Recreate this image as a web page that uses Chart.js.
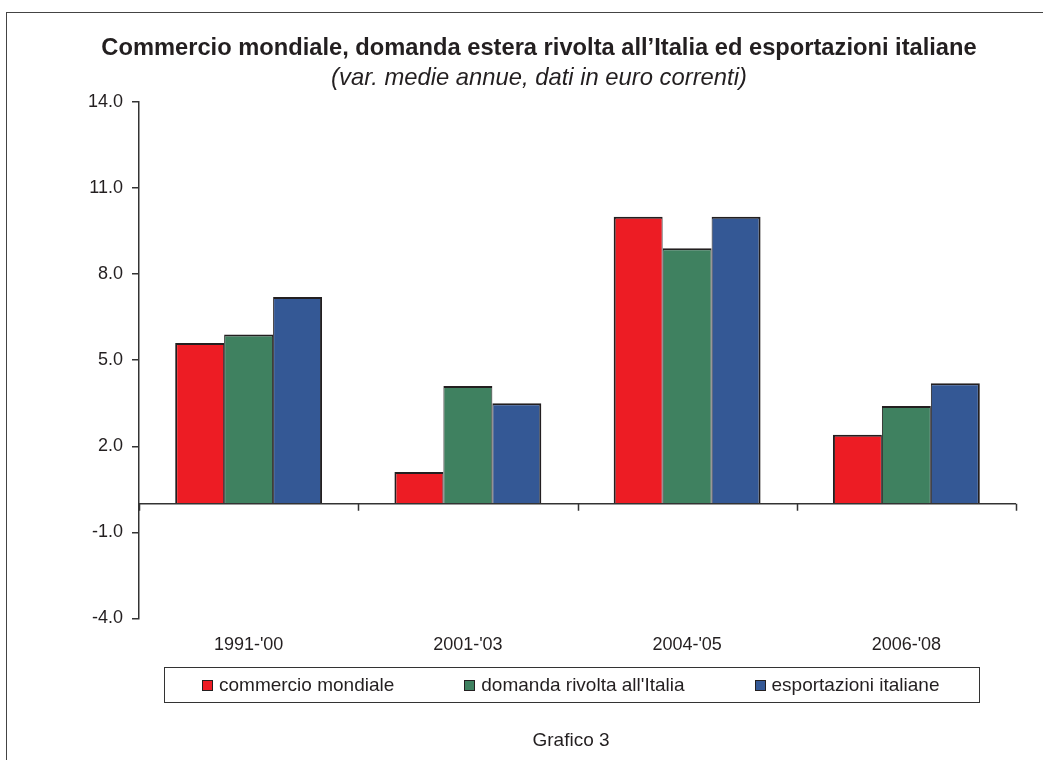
<!DOCTYPE html>
<html>
<head>
<meta charset="utf-8">
<script src="https://cdn.jsdelivr.net/npm/chart.js@4/dist/chart.umd.min.js"></script>
<style>
  html, body { margin: 0; padding: 0; background: #fff; overflow: hidden; }
  body { width: 1043px; height: 760px; position: relative; font-family: "Liberation Sans", Arial, sans-serif; color: #231f20; }
  #frame { position: absolute; left: 6px; top: 12px; width: 1100px; height: 800px; border-top: 1.5px solid #444; border-left: 1.5px solid #444; }
  #chart { position: absolute; left: 0; top: 0; }
  #legend { position: absolute; left: 164px; top: 667px; width: 816px; height: 36px; border: 1.5px solid #333; display: flex; align-items: center; padding-left: 37px; box-sizing: border-box; }
  #legend .item { display: flex; align-items: center; margin-right: 70px; font-size: 19px; white-space: nowrap; }
  #legend .box { width: 9px; height: 9px; border: 1px solid #231f20; margin-right: 6px; }
  #footer { position: absolute; left: 471px; width: 200px; top: 729px; text-align: center; font-size: 19px; }
</style>
</head>
<body>
<div id="frame"></div>
<canvas id="chart" width="1043" height="760"></canvas>
<div id="legend"></div>
<div id="footer">Grafico 3</div>
<script>
var periods = ["1991-'00", "2001-'03", "2004-'05", "2006-'08"];
var commercioMondiale = [5.6, 1.1, 10.0, 2.4];
var domandaItalia = [5.9, 4.1, 8.9, 3.4];
var esportazioniItaliane = [7.2, 3.5, 10.0, 4.2];
var seriesNames = ["commercio mondiale", "domanda rivolta all'Italia", "esportazioni italiane"];
var yMin = -4, yMax = 14, yStep = 3;

Chart.defaults.font.family = "'Liberation Sans', Arial, sans-serif";
Chart.defaults.color = "#231f20";

// linea dello zero con le tacche tra le categorie
var zeroLine = {
    id: 'zeroLine',
    afterDatasetsDraw: function(chart) {
        var ctx = chart.ctx;
        var area = chart.chartArea;
        var y0 = chart.scales.y.getPixelForValue(0);
        var n = chart.data.labels.length;
        var step = (area.right - area.left) / n;
        ctx.save();
        ctx.strokeStyle = '#333';
        ctx.lineWidth = 1.5;
        ctx.beginPath();
        ctx.moveTo(area.left, y0);
        ctx.lineTo(area.right, y0);
        for (var i = 0; i <= n; i++) {
            var x = Math.round(area.left + i * step) + 0.5;
            ctx.moveTo(x, y0);
            ctx.lineTo(x, y0 + 7);
        }
        ctx.stroke();
        ctx.restore();
    }
};

var ctx = document.getElementById('chart');
var chart = new Chart(ctx, {
    type: 'bar',
    data: {
        labels: periods,
        datasets: [{
            label: seriesNames[0],
            data: commercioMondiale,
            backgroundColor: '#ed1c24',
            borderColor: '#231f20',
            borderWidth: {top: 2, left: 2, right: 1, bottom: 0},
            borderSkipped: false
        }, {
            label: seriesNames[1],
            data: domandaItalia,
            backgroundColor: '#3f8160',
            borderColor: '#231f20',
            borderWidth: {top: 2, left: 1, right: 1, bottom: 0},
            borderSkipped: false
        }, {
            label: seriesNames[2],
            data: esportazioniItaliane,
            backgroundColor: '#345895',
            borderColor: '#231f20',
            borderWidth: {top: 2, left: 1, right: 2, bottom: 0},
            borderSkipped: false
        }]
    },
    options: {
        responsive: false,
        animation: false,
        categoryPercentage: 0.67,
        barPercentage: 1.0,
        layout: {
            padding: {left: 62, right: 27, top: 0, bottom: 88}
        },
        plugins: {
            legend: { display: false },
            tooltip: { enabled: false },
            title: {
                display: true,
                text: 'Commercio mondiale, domanda estera rivolta all\u2019Italia ed esportazioni italiane',
                font: {size: 23.7, weight: 'bold'},
                color: '#231f20',
                padding: {top: 34, bottom: 2}
            },
            subtitle: {
                display: true,
                text: '(var. medie annue, dati in euro correnti)',
                font: {size: 23.8, style: 'italic'},
                color: '#231f20',
                padding: {top: 0, bottom: 9}
            }
        },
        scales: {
            x: {
                grid: { display: false, drawTicks: false },
                border: { display: false },
                ticks: { font: {size: 18}, color: '#231f20', padding: 16 }
            },
            y: {
                min: yMin,
                max: yMax,
                afterFit: function(scale) { scale.width = 77; },
                grid: { drawOnChartArea: false, drawTicks: true, tickLength: 7, color: '#333', lineWidth: 1.5 },
                border: { display: true, color: '#333', width: 1.5 },
                ticks: {
                    stepSize: yStep,
                    padding: 9,
                    font: {size: 18},
                    color: '#231f20',
                    callback: function(value) { return value.toFixed(1); }
                }
            }
        }
    },
    plugins: [zeroLine]
});

// legenda in html, costruita dai dataset
var legend = document.getElementById('legend');
chart.data.datasets.forEach(function(ds) {
    var item = document.createElement('div');
    item.className = 'item';
    var box = document.createElement('span');
    box.className = 'box';
    box.style.background = ds.backgroundColor;
    var txt = document.createElement('span');
    txt.textContent = ds.label;
    item.appendChild(box);
    item.appendChild(txt);
    legend.appendChild(item);
});
</script>
</body>
</html>
